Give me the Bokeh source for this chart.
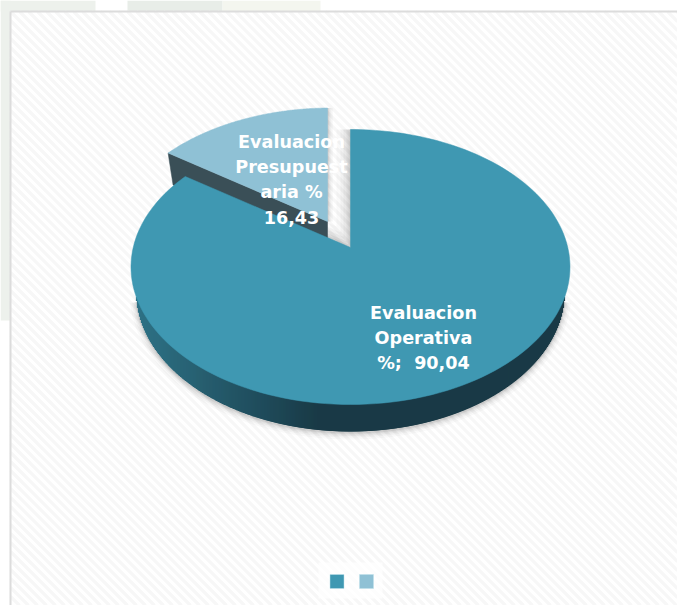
import numpy as np
from bokeh.plotting import figure
from bokeh.models import Range1d
from bokeh.core.properties import value
from bokeh.embed import file_html
from bokeh.resources import INLINE

categories = ["Evaluacion Operativa %", "Evaluacion Presupuestaria %"]
values = [90.04, 16.43]
label_lines = [["Evaluacion", "Operativa", "%;\u00a0 90,04"],
               ["Evaluacion", "Presupuest", "aria %", "16,43"]]
top_colors = ["#3F98B2", "#8FC1D5"]

# screen-like layout constants
RX, RY = 219.5, 137.5
CX, CY = 350.0, 266.5
APEX = (350.0, 247.0)
C2 = (330.0, 245.0)
APEX2 = (327.0, 221.0)

p = figure(width=677, height=605, output_backend="svg", toolbar_location=None,
           x_range=Range1d(0, 677), y_range=Range1d(605, 0),
           min_border=0, outline_line_color=None, background_fill_color="#ffffff",
           border_fill_color="#ffffff")
p.axis.visible = False
p.grid.visible = False

# pale page decoration outside the panel
for x0, x1, c in [(0, 95, "#edf1ec"), (127, 222, "#e8ede8"), (222, 320, "#f4f6ef")]:
    p.quad(left=x0, right=x1, top=0, bottom=11, fill_color=c, line_color=None)
p.quad(left=0, right=10, top=0, bottom=320, fill_color="#edf1ec", line_color=None)

# panel with diagonal stripes
L, R, T, B = 10.0, 677.0, 11.0, 605.0
sx, sy = [], []
for c in np.arange(L - (B - T), R, 9.0):
    # line y - T = x - c clipped to the panel
    x_a = max(c, L)
    x_b = min(c + (B - T), R)
    if x_b > x_a:
        sx.append([x_a, x_b])
        sy.append([T + x_a - c, T + x_b - c])
p.multi_line(sx, sy, line_color="#f7f7f7", line_width=3.2)
p.line([L, R], [T, T], line_color="#dcdcdc", line_width=2)
p.line([L, L], [T, B], line_color="#dcdcdc", line_width=2)

fracs = np.array(values) / np.sum(values) * 2 * np.pi
split = fracs[0]


def ray(apex, centre, theta):
    dx, dy = RX * np.sin(theta), -RY * np.cos(theta)
    ax, ay = (apex[0] - centre[0]) / RX, (apex[1] - centre[1]) / RY
    ux, uy = dx / RX, dy / RY
    a = ux * ux + uy * uy
    b = 2 * (ax * ux + ay * uy)
    c = ax * ax + ay * ay - 1
    t = (-b + np.sqrt(b * b - 4 * a * c)) / (2 * a)
    return apex[0] + t * dx, apex[1] + t * dy


def wedge(apex, centre, t0, t1, n=160):
    th = np.linspace(t0, t1, n)
    pts = [ray(apex, centre, t) for t in th]
    return [apex[0]] + [q[0] for q in pts], [apex[1]] + [q[1] for q in pts]


mx, my = wedge(APEX, (CX, CY), 0, split)
lx, ly = wedge(APEX2, C2, split, 2 * np.pi)

# bottom rim
BRX, BRY, BCY = 214.0, 140.0, 291.0
xs = np.arange(136.5, 564.0, 1.0)
top_y = CY + RY * np.sqrt(np.clip(1 - ((xs - CX) / RX) ** 2, 0, 1))
bot_y = BCY + BRY * np.sqrt(np.clip(1 - ((xs - CX) / BRX) ** 2, 0, 1))
bot_y = np.maximum(bot_y, top_y)

# soft shadows: under the rim and inside the notch only
notch_x = [mx[1], mx[0], mx[-1]]
notch_y = [my[1], my[0], my[-1]]
edge_x = [lx[-1], lx[0]]
edge_y = [ly[-1], ly[0]]
for w, a in [(14, 0.025), (10, 0.03), (7, 0.04), (4, 0.05), (2, 0.06)]:
    p.line(xs, bot_y + 1, line_color="#000000", line_width=w, line_alpha=a)
    p.line(notch_x, notch_y, line_color="#000000", line_width=w * 2, line_alpha=a)
    p.line(edge_x, edge_y, line_color="#000000", line_width=w * 0.8, line_alpha=a)

# second slice wall then top
wall_x = [lx[1], APEX2[0], APEX2[0], lx[1] + 5]
wall_y = [ly[1], APEX2[1], APEX2[1] + 17, ly[1] + 32]
p.patch(wall_x, wall_y, fill_color="#3A4F57", line_color="#3A4F57", line_width=0.5)
p.patch(lx, ly, fill_color=top_colors[1], line_color=top_colors[1], line_width=0.5)


def rim_colour(x):
    stops_x = [132, 180, 270, 320, 568]
    r = np.interp(x, stops_x, [0x2F, 0x2A, 0x1F, 0x1A, 0x1A])
    g = np.interp(x, stops_x, [0x74, 0x66, 0x4A, 0x3A, 0x3A])
    b = np.interp(x, stops_x, [0x88, 0x78, 0x59, 0x46, 0x46])
    return "#%02x%02x%02x" % (int(r), int(g), int(b))


cols = [rim_colour(x) for x in xs]
p.segment(xs, top_y - 2, xs, bot_y, line_color=cols, line_width=2.2)

# main slice top
p.patch(mx, my, fill_color=top_colors[0], line_color=top_colors[0], line_width=0.5)

# labels
font = value("DejaVu Sans")
for lines, cx, y0, dy in [(label_lines[0], 423, 312, 25.3), (label_lines[1], 291, 141, 25.3)]:
    p.text([cx] * len(lines), [y0 + i * dy for i in range(len(lines))], text=lines,
           text_color="#ffffff", text_font=font, text_font_style="bold", text_font_size="17.6px",
           text_align="center", text_baseline="middle")

# legend box with bare keys
p.quad(left=318, right=382, top=562, bottom=598, fill_color="#ffffff", fill_alpha=0.7, line_color=None)
key_x = [336.5, 366]
p.scatter(key_x, [581, 581], marker="square", size=14, fill_color=top_colors,
          line_color="#bfe0ea", line_width=0.5)

open("out.html", "w").write(file_html(p, INLINE))
